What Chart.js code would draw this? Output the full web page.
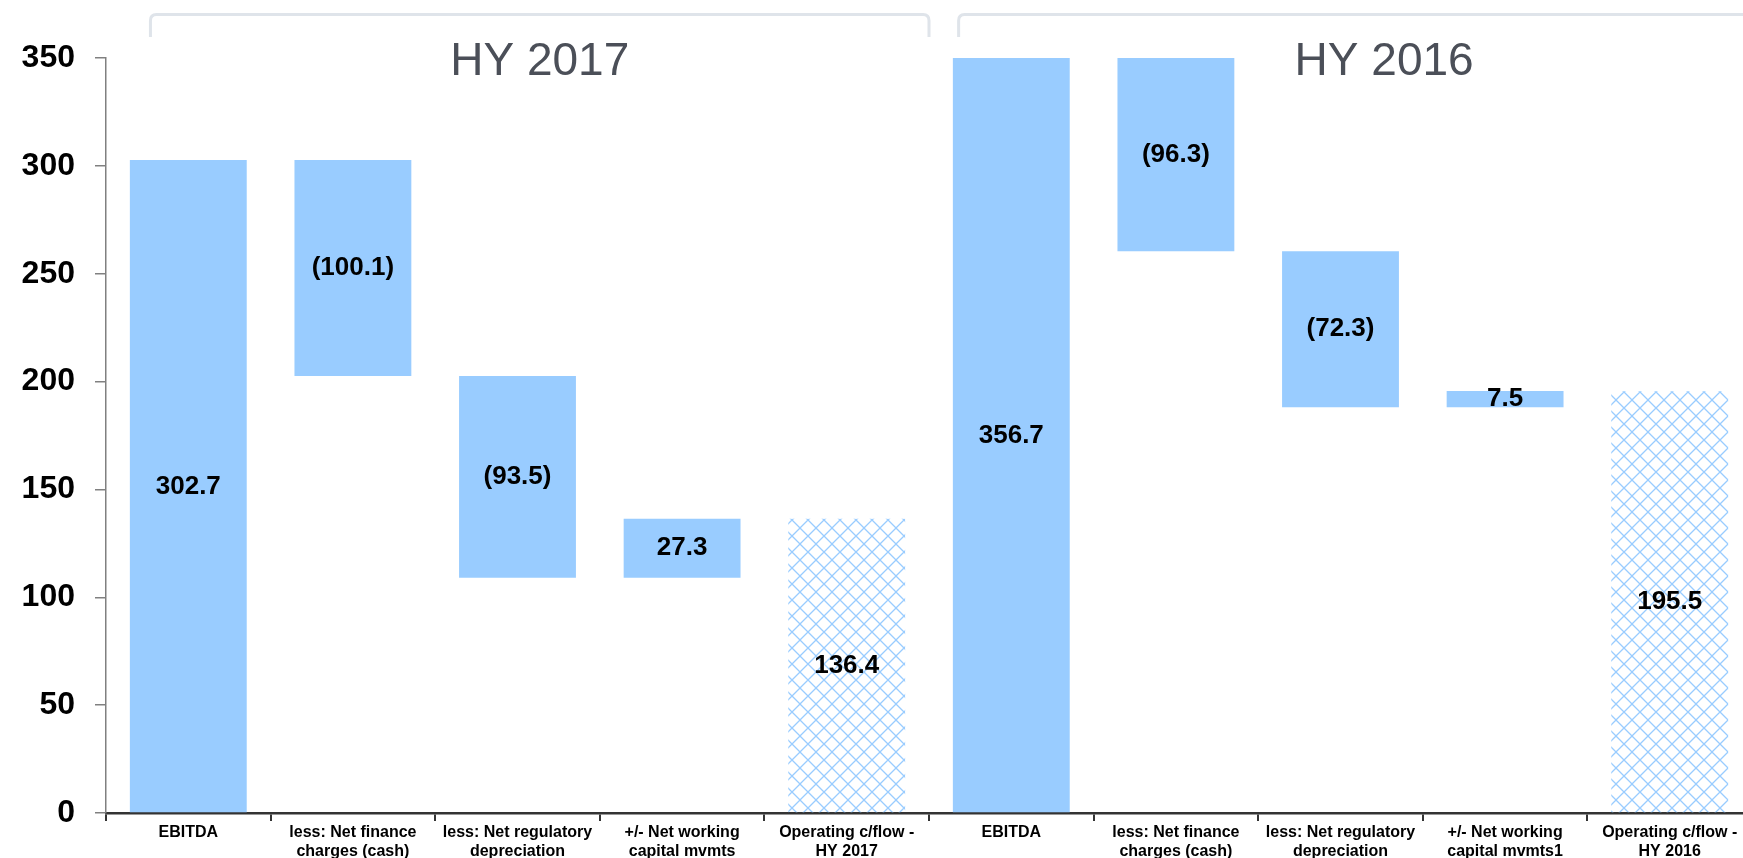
<!DOCTYPE html>
<html>
<head>
<meta charset="utf-8">
<title>Operating cash flow bridge</title>
<script src="https://cdn.jsdelivr.net/npm/chart.js@4"></script>
<style>
  html, body { margin: 0; padding: 0; background: #fff; overflow: hidden; }
  #wrap { width: 1743px; height: 858px; overflow: hidden; }
</style>
</head>
<body>
<div id="wrap"><canvas id="bridge" width="1752" height="858"></canvas></div>
<script>
// Data
const categories = [
  "EBITDA",
  ["less: Net finance", "charges (cash)"],
  ["less: Net regulatory", "depreciation"],
  ["+/- Net working", "capital mvmts"],
  ["Operating c/flow -", "HY 2017"],
  "EBITDA",
  ["less: Net finance", "charges (cash)"],
  ["less: Net regulatory", "depreciation"],
  ["+/- Net working", "capital mvmts1"],
  ["Operating c/flow -", "HY 2016"]
];
const values = [302.7, -100.1, -93.5, 27.3, 136.4, 356.7, -96.3, -72.3, 7.5, 195.5];
// "total" bars start at zero, "step" bars float on the running total
const kinds = ["total", "step", "step", "step", "result", "total", "step", "step", "step", "result"];
const periods = ["HY 2017", "HY 2016"];
const yTicks = [0, 50, 100, 150, 200, 250, 300, 350];

const BLUE = "#99CCFF";
const FONT = '"Liberation Sans", Arial, sans-serif';

// build floating bars for the waterfall
let running = 0;
const ranges = values.map(function (v, i) {
  if (kinds[i] === "step") {
    const r = [running, running + v];
    running += v;
    return r;
  }
  running = v;
  return [0, v];
});

// diamond lattice fill for the result bars
function makeHatch() {
  const c = document.createElement("canvas");
  c.width = 16; c.height = 16;
  const g = c.getContext("2d");
  g.strokeStyle = BLUE;
  g.lineWidth = 1.3;
  g.beginPath();
  g.moveTo(0, 0); g.lineTo(16, 16);
  g.moveTo(16, 0); g.lineTo(0, 16);
  g.stroke();
  return document.getElementById("bridge").getContext("2d").createPattern(c, "repeat");
}
const hatch = makeHatch();

const fills = kinds.map(function (k) { return k === "result" ? hatch : BLUE; });

// value labels in the middle of the visible part of each bar
const valueLabels = {
  id: "valueLabels",
  afterDatasetsDraw(chart) {
    const ctx = chart.ctx;
    const y = chart.scales.y;
    const meta = chart.getDatasetMeta(0);
    ctx.save();
    ctx.font = "bold 26px " + FONT;
    ctx.fillStyle = "#000";
    ctx.textAlign = "center";
    ctx.textBaseline = "middle";
    meta.data.forEach(function (bar, i) {
      const lo = Math.max(Math.min(ranges[i][0], ranges[i][1]), y.min);
      const hi = Math.min(Math.max(ranges[i][0], ranges[i][1]), y.max);
      const v = values[i];
      const txt = v < 0 ? "(" + Math.abs(v).toFixed(1) + ")" : v.toFixed(1);
      ctx.fillText(txt, bar.x, y.getPixelForValue((lo + hi) / 2));
    });
    ctx.restore();
  }
};

// period brackets and titles across the top
const periodHeaders = {
  id: "periodHeaders",
  afterDraw(chart) {
    const ctx = chart.ctx;
    const x = chart.scales.x;
    const catW = (x.right - x.left) / categories.length;
    const spans = [
      [x.left + 0.27 * catW, x.left + 5 * catW],
      [x.left + 5.18 * catW, x.left + 10.35 * catW]
    ];
    ctx.save();
    ctx.strokeStyle = "#DFE4EA";
    ctx.lineWidth = 3;
    spans.forEach(function (s, i) {
      const top = 14.5, bot = 37, r = 6;
      ctx.beginPath();
      ctx.moveTo(s[0], bot);
      ctx.lineTo(s[0], top + r);
      ctx.quadraticCurveTo(s[0], top, s[0] + r, top);
      ctx.lineTo(s[1] - r, top);
      ctx.quadraticCurveTo(s[1], top, s[1], top + r);
      ctx.lineTo(s[1], bot);
      ctx.stroke();

      ctx.font = "46px " + FONT;
      ctx.fillStyle = "#4B4F58";
      ctx.textAlign = "center";
      ctx.textBaseline = "alphabetic";
      ctx.fillText(periods[i], (s[0] + s[1]) / 2, 75);
    });
    ctx.restore();
  }
};

new Chart(document.getElementById("bridge"), {
  type: "bar",
  data: {
    labels: categories,
    datasets: [{
      data: ranges,
      backgroundColor: fills,
      borderWidth: 0,
      categoryPercentage: 1,
      barPercentage: 0.71
    }]
  },
  options: {
    responsive: false,
    animation: false,
    layout: { padding: { top: 58, left: 0, right: 0, bottom: 0 } },
    plugins: {
      legend: { display: false },
      tooltip: { enabled: false }
    },
    scales: {
      x: {
        offset: true,
        grid: {
          offset: true,
          drawOnChartArea: false,
          drawTicks: true,
          tickLength: 8,
          color: "#333333",
          lineWidth: 2
        },
        border: { color: "#333333", width: 2.5 },
        ticks: {
          color: "#000",
          padding: 2,
          maxRotation: 0,
          autoSkip: false,
          font: { family: FONT, size: 16, weight: "bold", lineHeight: 1.2 }
        },
        afterFit(scale) { scale.height = 45; }
      },
      y: {
        min: 0,
        max: 350,
        afterBuildTicks(scale) {
          scale.ticks = yTicks.map(function (v) { return { value: v }; });
        },
        grid: {
          drawOnChartArea: false,
          drawTicks: true,
          tickLength: 11,
          color: "#808080",
          lineWidth: 1.5
        },
        border: { color: "#808080", width: 1.5 },
        ticks: {
          color: "#000",
          padding: 20,
          font: { family: FONT, size: 32, weight: "bold" }
        },
        afterFit(scale) { scale.width = 106; }
      }
    }
  },
  plugins: [valueLabels, periodHeaders]
});
</script>
</body>
</html>
